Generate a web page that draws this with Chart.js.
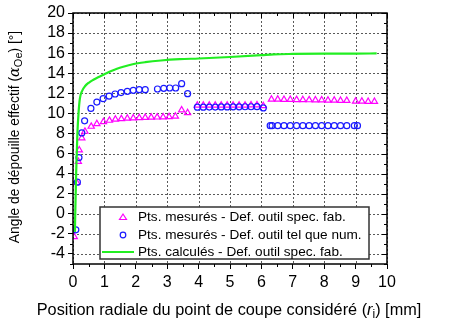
<!DOCTYPE html>
<html>
<head>
<meta charset="utf-8">
<script src="https://cdn.jsdelivr.net/npm/chart.js@4/dist/chart.umd.min.js"></script>
<style>
  html, body { margin: 0; padding: 0; background: #fff; }
</style>
</head>
<body>
<canvas id="chart" width="469" height="321"></canvas>
<script>
// Pts. mesurés - Def. outil spec. fab. (triangles)
const triX = [0.04, 0.12, 0.17, 0.2, 0.28, 0.38, 0.58, 0.76, 0.97, 1.16, 1.35, 1.54, 1.73, 1.92, 2.11, 2.3, 2.49, 2.68, 2.87, 3.06, 3.26, 3.46, 3.65,
  3.96, 4.15, 4.34, 4.53, 4.72, 4.91, 5.1, 5.29, 5.48, 5.67, 5.86, 6.06,
  6.32, 6.52, 6.72, 6.92, 7.12, 7.32, 7.52, 7.72, 7.92, 8.12, 8.32, 8.52, 8.72,
  9.0, 9.2, 9.4, 9.6];
const triY = [-2.3, 3.1, 5.2, 6.35, 7.55, 8.2, 8.7, 8.96, 9.16, 9.3, 9.4, 9.46, 9.5, 9.53, 9.56, 9.58, 9.6, 9.62, 9.63, 9.66, 9.7, 10.33, 10.06,
  10.8, 10.8, 10.8, 10.8, 10.8, 10.8, 10.8, 10.8, 10.8, 10.82, 10.82, 10.75,
  11.4, 11.4, 11.38, 11.37, 11.36, 11.35, 11.34, 11.33, 11.32, 11.3, 11.3, 11.28, 11.27,
  11.2, 11.2, 11.18, 11.18];

// Pts. mesurés - Def. outil tel que num. (circles)
const circX = [0.09, 0.14, 0.19, 0.28, 0.37, 0.57, 0.76, 0.96, 1.15, 1.34, 1.53, 1.73, 1.92, 2.11, 2.3,
  2.69, 2.89, 3.08, 3.27, 3.46, 3.65,
  3.96, 4.15, 4.34, 4.53, 4.72, 4.91, 5.1, 5.29, 5.48, 5.67, 5.86, 6.06,
  6.28, 6.34, 6.52, 6.72, 6.92, 7.12, 7.32, 7.52, 7.72, 7.92, 8.12, 8.32, 8.52, 8.72,
  8.96, 9.06];
const circY = [-1.6, 3.15, 5.6, 8.06, 9.26, 10.5, 11.13, 11.47, 11.73, 11.93, 12.07, 12.2, 12.3, 12.36, 12.36,
  12.43, 12.5, 12.53, 12.53, 12.96, 11.96,
  10.62, 10.62, 10.63, 10.63, 10.64, 10.64, 10.65, 10.65, 10.66, 10.66, 10.67, 10.55,
  8.78, 8.78, 8.78, 8.78, 8.78, 8.78, 8.78, 8.78, 8.78, 8.78, 8.78, 8.78, 8.78, 8.78,
  8.78, 8.78];

// Pts. calculés - Def. outil spec. fab. (line)
const calcX = [0.06, 0.1, 0.14, 0.18, 0.22, 0.3, 0.38, 0.5, 0.65, 0.8, 1.0, 1.2, 1.4, 1.6, 1.9, 2.3, 2.8, 3.4, 4.0, 5.0, 6.0, 6.4, 7.0, 8.0, 9.0, 9.67];
const calcY = [-1.8, 4.0, 8.0, 10.2, 11.5, 12.3, 12.7, 13.05, 13.35, 13.6, 13.9, 14.2, 14.45, 14.65, 14.9, 15.1, 15.27, 15.4, 15.47, 15.62, 15.8, 15.88, 15.92, 15.95, 15.96, 15.97];

const labels = [
  "Pts. mesurés - Def. outil spec. fab.",
  "Pts. mesurés - Def. outil tel que num.",
  "Pts. calculés - Def. outil spec. fab."
];

const xTicks = [0, 1, 2, 3, 4, 5, 6, 7, 8, 9, 10];
const yTicks = [-4, -2, 0, 2, 4, 6, 8, 10, 12, 14, 16, 18, 20];
const xMinor = [0.5, 1.5, 2.5, 3.5, 4.5, 5.5, 6.5, 7.5, 8.5, 9.5];
const yMinor = [-5, -3, -1, 1, 3, 5, 7, 9, 11, 13, 15, 17, 19];

function pts(xs, ys) {
  return xs.map((v, i) => ({ x: v, y: ys[i] }));
}

function drawGrid(chart) {
  const { ctx, chartArea: a, scales } = chart;
  ctx.save();
  ctx.fillStyle = '#5a5a5a';
  xTicks.forEach(v => {
    const p = Math.round(scales.x.getPixelForValue(v));
    for (let y = Math.round(a.top); y < a.bottom; y += 4) ctx.fillRect(p, y, 1, 2);
  });
  yTicks.forEach(v => {
    const p = Math.round(scales.y.getPixelForValue(v));
    for (let x = Math.round(a.left); x < a.right; x += 4) ctx.fillRect(x, p, 2, 1);
  });
  ctx.restore();
}

// cadre, grille, ticks secondaires, titres et legende
const decor = {
  id: 'decor',
  beforeDatasetsDraw(chart) {
    drawGrid(chart);
  },
  afterDatasetsDraw(chart) {
    const { ctx, chartArea: a, scales } = chart;
    const sx = scales.x, sy = scales.y;
    ctx.save();
    ctx.strokeStyle = '#000';
    ctx.lineWidth = 1;
    ctx.beginPath();
    xMinor.forEach(v => {
      const p = Math.round(sx.getPixelForValue(v)) + 0.5;
      ctx.moveTo(p, a.bottom); ctx.lineTo(p, a.bottom + 3);
      ctx.moveTo(p, a.top); ctx.lineTo(p, a.top + 3);
    });
    xTicks.forEach(v => {
      const p = Math.round(sx.getPixelForValue(v)) + 0.5;
      ctx.moveTo(p, a.top); ctx.lineTo(p, a.top + 5);
    });
    yMinor.forEach(v => {
      const p = Math.round(sy.getPixelForValue(v)) + 0.5;
      ctx.moveTo(a.left - 3, p); ctx.lineTo(a.left, p);
      ctx.moveTo(a.right - 3, p); ctx.lineTo(a.right, p);
    });
    yTicks.forEach(v => {
      const p = Math.round(sy.getPixelForValue(v)) + 0.5;
      ctx.moveTo(a.right - 5, p); ctx.lineTo(a.right, p);
    });
    ctx.stroke();
    ctx.lineWidth = 1.5;
    ctx.strokeRect(a.left, a.top, a.right - a.left, a.bottom - a.top);

    // legende
    const lx = 100, ly = 207, lw = 269, lh = 52;
    ctx.fillStyle = '#fff';
    ctx.fillRect(lx, ly, lw, lh);
    ctx.strokeStyle = '#333';
    ctx.lineWidth = 1.5;
    ctx.strokeRect(lx, ly, lw, lh);
    ctx.font = '13.6px "Liberation Sans", Arial, sans-serif';
    ctx.textBaseline = 'middle';
    ctx.textAlign = 'left';
    const rows = [217, 235, 252];
    chart.data.datasets.forEach((ds, i) => {
      const y = rows[i];
      ctx.lineWidth = 1.2;
      ctx.strokeStyle = ds.borderColor;
      if (i === 0) {
        ctx.beginPath();
        ctx.moveTo(119.5, y + 2.5); ctx.lineTo(126.5, y + 2.5); ctx.lineTo(123, y - 3); ctx.closePath();
        ctx.stroke();
      } else if (i === 1) {
        ctx.beginPath();
        ctx.arc(123, y, 2.8, 0, Math.PI * 2);
        ctx.stroke();
      } else {
        ctx.lineWidth = 2;
        ctx.beginPath();
        ctx.moveTo(102, y); ctx.lineTo(134, y);
        ctx.stroke();
      }
      ctx.fillStyle = '#000';
      ctx.fillText(ds.label, 138, y + 0.5);
    });

    // titres des axes avec symbole italique et indice
    function run(parts) {
      let w = 0;
      parts.forEach(p => { ctx.font = p[1]; w += ctx.measureText(p[0]).width; });
      let x = -w / 2;
      parts.forEach(p => {
        ctx.font = p[1];
        ctx.fillText(p[0], x, p[2]);
        x += ctx.measureText(p[0]).width;
      });
    }
    ctx.fillStyle = '#000';
    ctx.textBaseline = 'alphabetic';
    ctx.save();
    ctx.translate(229, 315);
    run([["Position radiale du point de coupe considéré (", '16.3px "Liberation Sans", Arial, sans-serif', 0],
      ["r", 'italic 16.3px "Liberation Sans", Arial, sans-serif', 0],
      ["i", '12px "Liberation Sans", Arial, sans-serif', 3],
      [") [mm]", '16.3px "Liberation Sans", Arial, sans-serif', 0]]);
    ctx.restore();
    ctx.save();
    ctx.translate(19, 137);
    ctx.rotate(-Math.PI / 2);
    run([["Angle de dépouille effectif (", '13.8px "Liberation Sans", Arial, sans-serif', 0],
      ["α", 'italic 14.5px "DejaVu Serif", serif', 0],
      ["Oe", '11px "Liberation Sans", Arial, sans-serif', 3],
      [") [°]", '13.8px "Liberation Sans", Arial, sans-serif', 0]]);
    ctx.restore();
    ctx.restore();
  }
};

const ctx = document.getElementById("chart").getContext("2d");
const chart = new Chart(ctx, {
  type: "scatter",
  data: {
    datasets: [
      {
        label: labels[0],
        data: pts(triX, triY),
        pointStyle: "triangle",
        pointRadius: 3.6,
        borderColor: "#ff00ff",
        backgroundColor: "rgba(0,0,0,0)",
        borderWidth: 1.2,
        order: 2
      },
      {
        label: labels[1],
        data: pts(circX, circY),
        pointStyle: "circle",
        pointRadius: 3,
        borderColor: "#1a1aff",
        backgroundColor: "rgba(0,0,0,0)",
        borderWidth: 1.2,
        order: 1
      },
      {
        label: labels[2],
        data: pts(calcX, calcY),
        showLine: true,
        pointRadius: 0,
        borderColor: "#22ee22",
        borderWidth: 2.2,
        cubicInterpolationMode: "monotone",
        order: 0
      }
    ]
  },
  options: {
    responsive: false,
    animation: false,
    layout: { padding: { left: 0, right: 82, top: 13, bottom: 0 } },
    plugins: {
      legend: { display: false },
      title: { display: false },
      tooltip: { enabled: false }
    },
    scales: {
      x: {
        type: "linear",
        min: 0,
        max: 10,
        afterBuildTicks: s => { s.ticks = xTicks.map(v => ({ value: v })); },
        afterFit: s => { s.height = 57; },
        ticks: {
          color: "#000",
          font: { size: 16, family: '"Liberation Sans", Arial, sans-serif' },
          padding: 4,
          maxRotation: 0,
          autoSkip: false
        },
        grid: {
          drawOnChartArea: false,
          tickColor: "#000",
          tickLength: 5
        },
        border: { display: false }
      },
      y: {
        type: "linear",
        min: -5,
        max: 20,
        afterBuildTicks: s => { s.ticks = yTicks.map(v => ({ value: v })); },
        afterFit: s => { s.width = 73; },
        ticks: {
          color: "#000",
          font: { size: 16, family: '"Liberation Sans", Arial, sans-serif' },
          padding: 3,
          autoSkip: false
        },
        grid: {
          drawOnChartArea: false,
          tickColor: "#000",
          tickLength: 5
        },
        border: { display: false }
      }
    }
  },
  plugins: [decor]
});
</script>
</body>
</html>
